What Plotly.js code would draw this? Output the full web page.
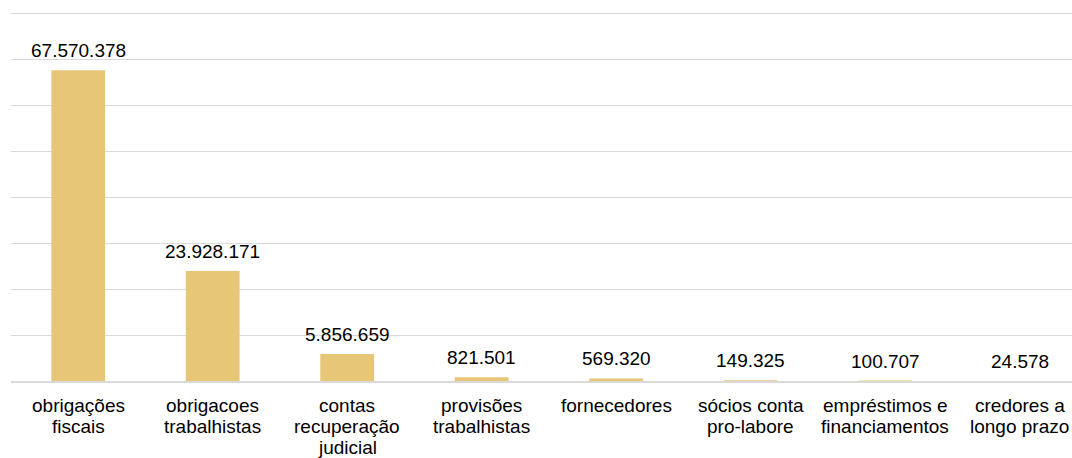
<!DOCTYPE html>
<html>
<head>
<meta charset="utf-8">
<script src="https://cdn.plot.ly/plotly-3.0.1.min.js"></script>
<style>html,body{margin:0;padding:0;background:#fff;}#chart{width:1072px;height:458px;}</style>
</head>
<body>
<div id="chart"></div>
<script>
var categories = [
  "obrigações fiscais",
  "obrigacoes trabalhistas",
  "contas recuperação judicial",
  "provisões trabalhistas",
  "fornecedores",
  "sócios conta pro-labore",
  "empréstimos e financiamentos",
  "credores a longo prazo"
];
var categoryLines = [
  ["obrigações", "fiscais"],
  ["obrigacoes", "trabalhistas"],
  ["contas", "recuperação", "judicial"],
  ["provisões", "trabalhistas"],
  ["fornecedores"],
  ["sócios conta", "pro-labore"],
  ["empréstimos e", "financiamentos"],
  ["credores a", "longo prazo"]
];
var values = [67570378, 23928171, 5856659, 821501, 569320, 149325, 100707, 24578];
var valueLabels = ["67.570.378", "23.928.171", "5.856.659", "821.501", "569.320", "149.325", "100.707", "24.578"];

var FONT = 'Liberation Sans, Arial, sans-serif';
var annotations = [];
categories.forEach(function (c, i) {
  annotations.push({
    x: c, y: values[i], xref: 'x', yref: 'y',
    text: valueLabels[i], showarrow: false,
    yanchor: 'bottom', yshift: 7,
    font: {family: FONT, size: 19, color: '#000'}
  });
  categoryLines[i].forEach(function (line, j) {
    annotations.push({
      x: c, y: 0, xref: 'x', yref: 'y',
      text: line, showarrow: false,
      yanchor: 'middle', yshift: -(24 + j * 21),
      font: {family: FONT, size: 19, color: '#000'}
    });
  });
});

var trace = {
  type: 'bar',
  x: categories,
  y: values,
  marker: {color: '#E8C677'},
  hoverinfo: 'none',
  cliponaxis: false
};

var layout = {
  width: 1072, height: 458,
  margin: {l: 11, r: 0, t: 12, b: 77},
  paper_bgcolor: '#fff', plot_bgcolor: '#fff',
  bargap: 0.6,
  showlegend: false,
  font: {family: FONT, size: 19, color: '#000'},
  xaxis: {
    type: 'category',
    range: [-0.5, 7.39],
    showgrid: false,
    showline: true, linecolor: '#d9d9d9', linewidth: 1.5,
    ticks: '',
    showticklabels: false,
    automargin: false
  },
  yaxis: {
    range: [0, 80250000],
    dtick: 10000000,
    showticklabels: false,
    showgrid: true, gridcolor: '#d9d9d9', gridwidth: 1,
    zeroline: false,
    ticks: ''
  },
  annotations: annotations
};

Plotly.newPlot('chart', [trace], layout, {displayModeBar: false, staticPlot: true});
</script>
</body>
</html>
